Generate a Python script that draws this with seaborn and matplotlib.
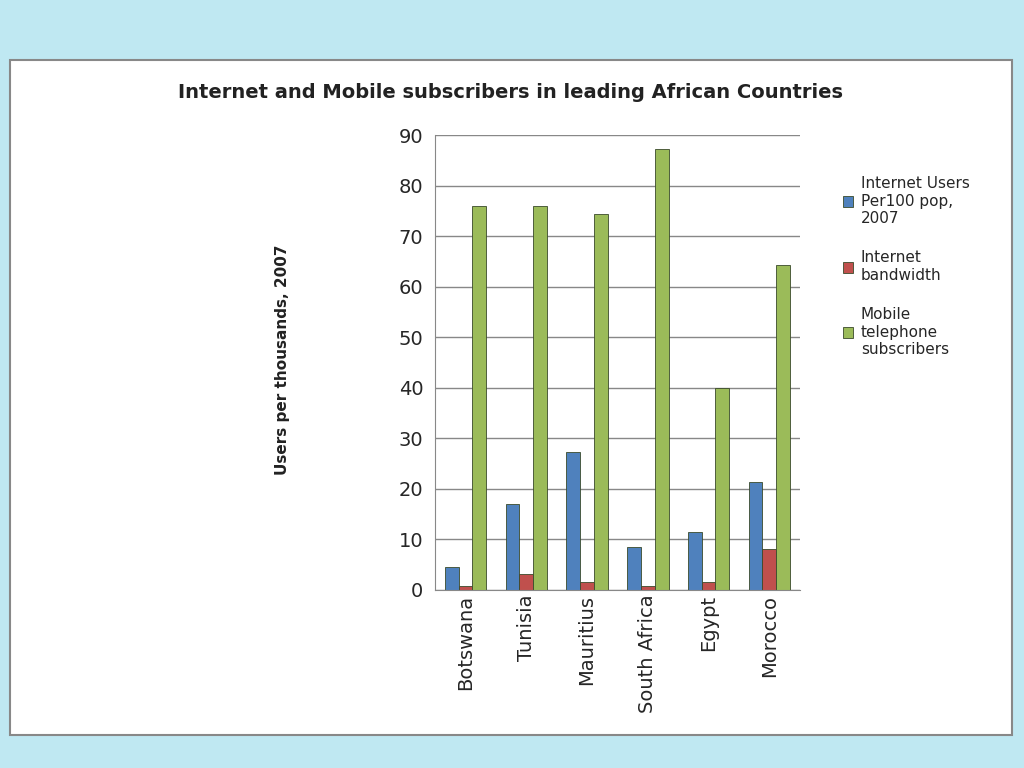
import matplotlib
matplotlib.use("Agg")
import matplotlib.pyplot as plt
import seaborn as sns
import pandas as pd
from matplotlib.patches import Rectangle

countries = ["Botswana", "Tunisia", "Mauritius", "South Africa", "Egypt", "Morocco"]
internet_users = [4.5, 17, 27.3, 8.5, 11.5, 21.3]
bandwidth = [0.8, 3.2, 1.5, 0.8, 1.5, 8.0]
mobile = [76, 76, 74.3, 87.3, 40, 64.3]
series = ["Internet Users\nPer100 pop,\n2007", "Internet\nbandwidth", "Mobile\ntelephone\nsubscribers"]

rows = []
for i, c in enumerate(countries):
    for s, v in zip(series, [internet_users[i], bandwidth[i], mobile[i]]):
        rows.append({"country": c, "series": s, "value": v})
df = pd.DataFrame(rows)

sns.set_style("white")
plt.rcParams['font.family'] = ['DejaVu Sans']
fig = plt.figure(figsize=(10.24, 7.68), dpi=100)
fig.patch.set_facecolor("#bfe8f2")
bg = fig.add_axes([0, 0, 1, 1], zorder=-5)
bg.set_axis_off()
bg.set_xlim(0, 1); bg.set_ylim(0, 1)
bg.add_patch(Rectangle((10/1024, 1-735/768), 1002/1024, 675/768,
                       facecolor="white", edgecolor="#888888", lw=1.5))
ax = fig.add_axes([0.425, 0.232, 0.356, 0.592])
ax.set_facecolor("none")
sns.barplot(data=df, x="country", y="value", hue="series", ax=ax,
            palette=["#4F81BD", "#C0504D", "#9BBB59"], width=0.68,
            edgecolor="#3a4a2a", linewidth=0.6, saturation=1)
ax.set_ylim(0, 90)
ax.set_yticks(range(0, 91, 10))
ax.yaxis.grid(True, color="#888888", lw=1)
ax.set_axisbelow(True)
for s in ["top", "right"]:
    ax.spines[s].set_visible(False)
ax.spines["left"].set_color("#888888")
ax.spines["bottom"].set_color("#888888")
ax.tick_params(axis="y", labelsize=14, length=5, color="#888888")
ax.tick_params(axis="x", labelsize=14, rotation=90, length=0)
ax.set_xlabel("")
ax.set_ylabel("")
fig.text(283/1024, 1-360/768, "Users per thousands, 2007", rotation=90, ha="center", va="center",
         fontsize=11, fontweight="bold", color="#222222")
fig.text(510/1024, 1-93/768, "Internet and Mobile subscribers in leading African Countries",
         ha="center", va="center", fontsize=14, fontweight="bold", color="#222222")
leg = ax.legend(loc="upper left", bbox_to_anchor=(1.08, 0.94), frameon=False, fontsize=11,
                labelspacing=1.6, handlelength=0.7, handleheight=0.7, handletextpad=0.5)
fig.savefig("out.png", dpi=100, facecolor=fig.get_facecolor())
